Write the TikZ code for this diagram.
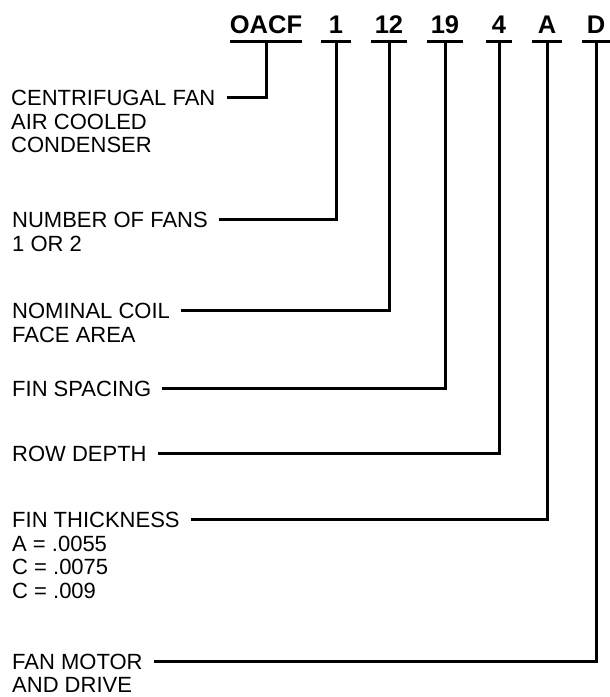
\documentclass[tikz,border=0pt]{standalone}
\usepackage{fontspec}
\setmainfont{Liberation Sans}
\usetikzlibrary{positioning}

\begin{document}
\begin{tikzpicture}[
    x=1pt, y=-1pt,
    lbl/.style={anchor=base west, inner sep=0pt, text height=15.7pt, text depth=0pt, font=\fontsize{22}{23}\selectfont},
    sub/.style={lbl, below=7.4pt of #1.south west, anchor=north west},
    code/.style={anchor=base, inner sep=0pt, text height=18pt, text depth=8.4pt, minimum width=#1, font=\fontsize{25.5}{25.5}\selectfont\bfseries},
    lead/.style={line width=3pt, shorten <=11pt},
    bar/.style={line width=3pt},
]
\useasboundingbox (0,0) rectangle (610,697);

% model code
\node[code=66pt] (oacf) at (266,33.3) {OACF};
\node[code=30pt] (nfan) at (336,33.3) {1};
\node[code=36pt] (area) at (389,33.3) {12};
\node[code=36pt] (fin)  at (445,33.3) {19};
\node[code=26pt] (row)  at (499,33.3) {4};
\node[code=30pt] (thk)  at (547,33.3) {A};
\node[code=28pt] (mtr)  at (596,33.3) {D};

\foreach \n in {oacf,nfan,area,fin,row,thk,mtr}
    \draw[bar] (\n.south west) -- (\n.south east);

% descriptions
\node[lbl] (cfan) at (11,105.7) {CENTRIFUGAL FAN};
\node[sub=cfan] (cfan2) {AIR COOLED};
\node[sub=cfan2] (cfan3) {CONDENSER};

\node[lbl] (fans) at (12,227.5) {NUMBER OF FANS};
\node[sub=fans] (fans2) {1 OR 2};

\node[lbl] (coil) at (12,318.5) {NOMINAL COIL};
\node[sub=coil] (coil2) {FACE AREA};

\node[lbl] (spc) at (12,396) {FIN SPACING};

\node[lbl] (dep) at (12,461.7) {ROW DEPTH};

\node[lbl] (tk) at (12,527.5) {FIN THICKNESS};
\node[sub=tk] (tk2) {A = .0055};
\node[sub=tk2] (tk3) {C = .0075};
\node[sub=tk3] (tk4) {C = .009};

\node[lbl] (drv) at (12,669) {FAN MOTOR};
\node[sub=drv] (drv2) {AND DRIVE};

% leaders
\draw[lead] (cfan.east) -| (oacf.south);
\draw[lead] (fans.east) -| (nfan.south);
\draw[lead] (coil.east) -| (area.south);
\draw[lead] (spc.east)  -| (fin.south);
\draw[lead] (dep.east)  -| (row.south);
\draw[lead] (tk.east)   -| (thk.south);
\draw[lead] (drv.east)  -| (mtr.south);

\end{tikzpicture}
\end{document}
